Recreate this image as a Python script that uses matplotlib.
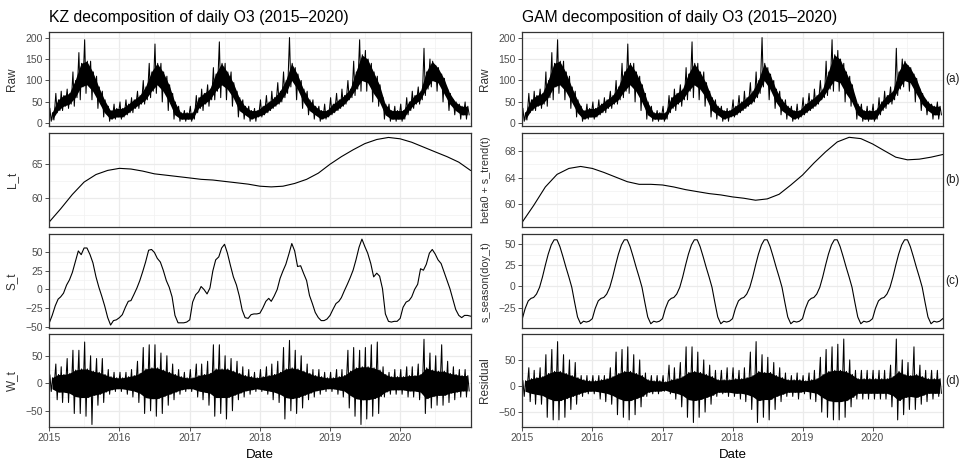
import numpy as np
import matplotlib
matplotlib.use("Agg")
import matplotlib.pyplot as plt
import matplotlib.dates as mdates
from matplotlib.ticker import FixedLocator

plt.rcParams['font.family'] = ['Liberation Sans', 'DejaVu Sans']

# daily O3, read as monthly extent of the spikes (2015-2020)
raw_hi = [35, 70, 75, 80, 120, 165, 195, 145, 110, 75, 40, 45,
          50, 55, 60, 75, 100, 140, 185, 140, 110, 70, 40, 30,
          40, 65, 80, 90, 130, 190, 140, 120, 75, 55, 40, 35,
          55, 65, 75, 95, 120, 200, 130, 100, 75, 55, 40, 45,
          60, 70, 80, 100, 145, 195, 170, 140, 110, 60, 45, 40,
          45, 60, 75, 85, 175, 150, 135, 115, 80, 55, 45, 50]
raw_lo = [5, 25, 30, 35, 40, 55, 70, 55, 35, 15, 5, 10,
          10, 20, 25, 35, 45, 60, 70, 50, 30, 10, 5, 5,
          5, 25, 30, 40, 55, 60, 55, 40, 15, 10, 5, 5,
          15, 25, 35, 45, 60, 85, 55, 35, 20, 10, 5, 10,
          20, 30, 40, 55, 65, 75, 75, 50, 40, 10, 5, 5,
          5, 20, 35, 45, 65, 85, 75, 50, 30, 20, 10, 10]
# dense core of the daily O3 band (monthly)
raw_core_hi = [25, 55, 65, 70, 100, 140, 145, 120, 85, 55, 30, 35,
               35, 45, 55, 65, 85, 120, 140, 120, 90, 50, 25, 25,
               25, 60, 70, 80, 115, 140, 120, 95, 60, 40, 30, 30,
               40, 50, 60, 75, 100, 140, 115, 80, 55, 40, 30, 30,
               45, 55, 65, 80, 120, 160, 150, 120, 90, 45, 30, 30,
               30, 50, 65, 75, 120, 145, 130, 105, 70, 50, 40, 40]
raw_core_lo = [8, 30, 40, 45, 60, 85, 90, 75, 50, 25, 10, 15,
               15, 25, 35, 45, 55, 75, 90, 75, 50, 20, 10, 10,
               10, 35, 45, 55, 75, 90, 80, 60, 30, 20, 10, 15,
               20, 30, 40, 50, 70, 100, 80, 50, 30, 20, 10, 15,
               25, 35, 45, 60, 80, 100, 95, 70, 50, 20, 10, 10,
               10, 30, 45, 55, 80, 100, 95, 70, 45, 30, 20, 20]

# KZ short-term component W_t (monthly spike extent and core half-width)
w_hi = [15, 35, 30, 45, 60, 60, 75, 50, 45, 45, 25, 20,
        20, 20, 25, 40, 65, 70, 70, 55, 50, 35, 25, 20,
        25, 35, 35, 40, 70, 70, 50, 45, 40, 30, 25, 20,
        25, 30, 35, 40, 65, 78, 60, 50, 35, 25, 25, 20,
        20, 25, 25, 60, 65, 60, 65, 70, 75, 30, 20, 25,
        25, 30, 30, 35, 80, 55, 50, 70, 40, 30, 25, 25]
w_lo = [-15, -30, -35, -35, -55, -55, -60, -75, -40, -35, -20, -15,
        -15, -20, -25, -35, -55, -50, -60, -55, -40, -30, -20, -15,
        -15, -25, -30, -40, -60, -55, -65, -50, -30, -25, -20, -15,
        -15, -20, -30, -35, -65, -50, -55, -45, -30, -25, -20, -15,
        -15, -20, -25, -45, -60, -75, -65, -60, -55, -25, -20, -20,
        -20, -25, -25, -30, -55, -45, -40, -40, -35, -30, -25, -25]
w_core = [10, 16, 16, 18, 24, 26, 26, 22, 20, 16, 12, 10,
          10, 12, 14, 18, 26, 28, 28, 24, 20, 16, 12, 10,
          10, 14, 16, 18, 26, 26, 26, 22, 18, 14, 12, 10,
          12, 14, 16, 20, 26, 28, 26, 22, 18, 14, 12, 10,
          10, 12, 14, 22, 28, 30, 30, 28, 24, 16, 12, 12,
          12, 14, 14, 16, 28, 24, 22, 22, 18, 16, 14, 14]

# GAM residual (monthly spike extent and core half-width)
res_hi = [10, 35, 30, 35, 60, 70, 85, 60, 50, 45, 20, 20,
          20, 20, 20, 35, 65, 70, 75, 60, 50, 25, 20, 20,
          20, 40, 35, 45, 75, 75, 65, 50, 40, 30, 30, 35,
          35, 30, 35, 65, 85, 60, 55, 45, 35, 25, 20, 25,
          20, 25, 30, 55, 70, 75, 80, 90, 50, 30, 30, 30,
          30, 30, 30, 40, 90, 50, 45, 75, 40, 30, 30, 30]
res_lo = [-20, -30, -35, -35, -60, -65, -65, -60, -45, -35, -20, -15,
          -15, -25, -30, -35, -55, -60, -65, -55, -40, -20, -15, -15,
          -10, -15, -25, -40, -60, -70, -60, -50, -35, -20, -15, -20,
          -20, -25, -30, -45, -70, -60, -65, -45, -30, -20, -20, -25,
          -15, -25, -30, -50, -60, -65, -65, -60, -40, -25, -25, -25,
          -25, -25, -25, -40, -65, -55, -45, -45, -35, -30, -25, -20]
res_core = [10, 14, 16, 18, 24, 28, 28, 24, 20, 16, 12, 10,
            10, 12, 14, 18, 24, 28, 28, 24, 20, 12, 10, 10,
            8, 12, 14, 18, 26, 28, 26, 22, 18, 12, 12, 12,
            14, 14, 16, 20, 28, 26, 26, 20, 16, 12, 12, 12,
            10, 12, 14, 22, 28, 30, 30, 28, 22, 14, 14, 14,
            14, 14, 14, 18, 28, 22, 20, 22, 18, 14, 14, 14]

# KZ long-term L_t, first day of every second month, Jan 2015 .. Jan 2021
kz_long = [56.5, 58.4, 60.5, 62.3, 63.4, 64.0, 64.3, 64.2, 63.9, 63.5,
           63.3, 63.1, 62.9, 62.7, 62.6, 62.4, 62.2, 62.0, 61.7, 61.6,
           61.7, 62.1, 62.7, 63.6, 64.9, 66.0, 67.0, 67.9, 68.5, 68.8,
           68.6, 68.1, 67.4, 66.7, 66.0, 65.2, 64.0]

# GAM beta0 + s_trend(t), same dates
gam_trend = [57.3, 59.8, 62.6, 64.5, 65.4, 65.7, 65.4, 64.8, 64.1, 63.4,
             63.0, 63.0, 62.9, 62.6, 62.2, 61.9, 61.6, 61.4, 61.1, 60.9,
             60.6, 60.8, 61.5, 62.9, 64.4, 66.2, 67.9, 69.4, 70.1, 69.9,
             69.1, 68.1, 67.1, 66.7, 66.8, 67.1, 67.5]

# KZ seasonal S_t, 1st and 16th of each month + 2021-01-01
kz_season = [-45, -35, -22, -13, -10, -5, 6, 13, 23, 37, 52, 47,
             56, 56, 47, 36, 17, 3, -9, -22, -38, -48, -42, -41,
             -38, -34, -24, -16, -15, -7, 2, 12, 24, 37, 53, 54,
             50, 42, 37, 26, 12, 3, -10, -35, -45, -45, -45, -44,
             -41, -17, -7, -3, 4, 0, -6, 2, 25, 40, 44, 56,
             61, 49, 32, 17, 6, -9, -28, -38, -39, -34, -33, -33,
             -32, -25, -16, -12, -16, -9, 0, 15, 25, 34, 48, 62,
             52, 31, 32, 22, 12, -8, -19, -31, -38, -42, -42, -40,
             -35, -27, -19, -16, -11, -2, 7, 16, 26, 40, 57, 68,
             58, 49, 35, 17, 22, 18, 1, -33, -43, -44, -43, -43,
             -39, -24, -17, -15, -10, 0, 7, 28, 26, 34, 49, 54,
             48, 40, 35, 24, 12, 1, -13, -27, -35, -38, -35, -35,
             -36]

# GAM s_season(doy_t): one year, 1st and 16th of each month
gam_season_doy = [-38, -26, -17, -14, -13, -9, -1, 11, 25, 38, 49, 55,
                  55, 47, 35, 23, 11, -1, -19, -36, -44, -41, -42, -41]

months = np.arange('2015-01', '2021-01', dtype='datetime64[M]').astype('datetime64[D]')
half_months = np.append(np.ravel(np.column_stack([months, months + 15])),
                        np.datetime64('2021-01-01'))
two_months = np.arange('2015-01', '2021-02', 2, dtype='datetime64[M]').astype('datetime64[D]')
stroke_dates = np.ravel(np.column_stack([months + 3, months + 10, months + 17, months + 24]))
gam_season = gam_season_doy * 6 + [gam_season_doy[0]]


def style(ax, ylim, major, minor, ylabel, bottom, lsize=8.5):
    ax.set_xlim(np.datetime64('2015-01-01'), np.datetime64('2021-01-01'))
    ax.set_ylim(ylim)
    ax.yaxis.set_major_locator(FixedLocator(major))
    ax.yaxis.set_minor_locator(FixedLocator(minor))
    ax.xaxis.set_major_locator(FixedLocator(
        mdates.date2num(np.arange('2015', '2021', dtype='datetime64[Y]').astype('datetime64[D]'))))
    ax.xaxis.set_minor_locator(mdates.MonthLocator(bymonth=7))
    ax.xaxis.set_major_formatter(mdates.DateFormatter('%Y'))
    ax.grid(True, which='major', color='#EBEBEB', lw=0.9)
    ax.grid(True, which='minor', color='#F2F2F2', lw=0.5)
    ax.set_axisbelow(True)
    for s in ax.spines.values():
        s.set_color('#333333')
        s.set_linewidth(0.9)
    ax.tick_params(which='major', length=2.7, width=0.6, color='#333333',
                   labelsize=7.5, labelcolor='#4D4D4D', pad=2)
    ax.tick_params(which='minor', length=0)
    if not bottom:
        ax.tick_params(axis='x', which='major', length=0, labelbottom=False)
    ax.set_ylabel(ylabel, fontsize=lsize, color='#333333')
    ax.yaxis.set_label_coords(-0.075, 0.5)


def noisy(ax, hi, lo, core_hi, core_lo):
    # dense core as a band, up/down strokes through spike and core extremes
    ax.fill_between(months + 14, core_lo, core_hi, color='black', lw=0)
    strokes = np.ravel(np.column_stack([hi, lo, core_hi, core_lo]))
    ax.plot(stroke_dates, strokes, color='black', lw=0.75)


def smooth(ax, x, y):
    ax.plot(x, y, color='black', lw=0.8)


fig = plt.figure(figsize=(9.61, 4.61), dpi=100)

rows = [(0.7267, 0.2039), (0.5082, 0.2026), (0.2885, 0.2033), (0.0744, 0.2004)]
left_x, right_x = 0.0513, 0.5435
w_left, w_right = 0.4383, 0.4375

kz = [fig.add_axes([left_x, b, w_left, h]) for b, h in rows]
gam = [fig.add_axes([right_x, b, w_right, h]) for b, h in rows]

noisy(kz[0], raw_hi, raw_lo, raw_core_hi, raw_core_lo)
style(kz[0], (-6, 213), [0, 50, 100, 150, 200], [25, 75, 125, 175], 'Raw', False)
smooth(kz[1], two_months, kz_long)
style(kz[1], (55.8, 69.4), [60, 65], [57.5, 62.5, 67.5], 'L_t', False)
smooth(kz[2], half_months, kz_season)
style(kz[2], (-52, 74.5), [-50, -25, 0, 25, 50], [-37.5, -12.5, 12.5, 37.5, 62.5], 'S_t', False)
noisy(kz[3], w_hi, w_lo, w_core, -np.array(w_core))
style(kz[3], (-79, 89), [-50, 0, 50], [-75, -25, 25, 75], 'W_t', True)

noisy(gam[0], raw_hi, raw_lo, raw_core_hi, raw_core_lo)
style(gam[0], (-6, 213), [0, 50, 100, 150, 200], [25, 75, 125, 175], 'Raw', False)
smooth(gam[1], two_months, gam_trend)
style(gam[1], (56.6, 70.7), [60, 64, 68], [58, 62, 66, 70], 'beta0 + s_trend(t)', False, 7.8)
smooth(gam[2], half_months, gam_season)
style(gam[2], (-49, 61.5), [-25, 0, 25, 50], [-37.5, -12.5, 12.5, 37.5], 's_season(doy_t)', False, 7.8)
noisy(gam[3], res_hi, res_lo, res_core, -np.array(res_core))
style(gam[3], (-78, 99), [-50, 0, 50], [-75, -25, 25, 75], 'Residual', True)

fig.text(left_x, 0.963, 'KZ decomposition of daily O3 (2015\u20132020)',
         fontsize=11.3, va='center', ha='left')
fig.text(right_x, 0.963, 'GAM decomposition of daily O3 (2015\u20132020)',
         fontsize=11.3, va='center', ha='left')
fig.text(left_x + w_left / 2, 0.013, 'Date', fontsize=9.5, ha='center', va='center')
fig.text(right_x + w_right / 2, 0.013, 'Date', fontsize=9.5, ha='center', va='center')

for (b, h), lab in zip(rows, ['(a)', '(b)', '(c)', '(d)']):
    fig.text(0.9834, b + h / 2, lab, fontsize=8.5, color='#1A1A1A',
             ha='left', va='center')

fig.savefig('out.png', dpi=100)
